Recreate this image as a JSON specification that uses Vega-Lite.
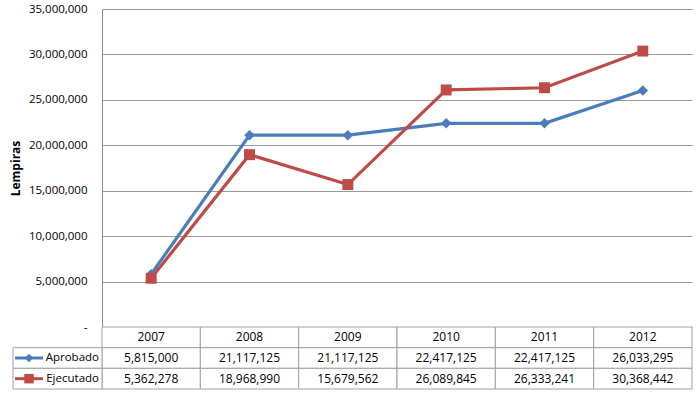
{
  "$schema": "https://vega.github.io/schema/vega-lite/v6.json",
  "autosize": {"type": "none"},
  "width": 590,
  "height": 380,
  "padding": {"left": 102, "top": 9, "right": 8, "bottom": 8},
  "background": "white",
  "config": {"view": {"stroke": null}, "font": "Open Sans"},
  "datasets": {
    "series": [
      {"year": "2007", "serie": "Aprobado", "value": 5815000},
      {"year": "2008", "serie": "Aprobado", "value": 21117125},
      {"year": "2009", "serie": "Aprobado", "value": 21117125},
      {"year": "2010", "serie": "Aprobado", "value": 22417125},
      {"year": "2011", "serie": "Aprobado", "value": 22417125},
      {"year": "2012", "serie": "Aprobado", "value": 26033295},
      {"year": "2007", "serie": "Ejecutado", "value": 5362278},
      {"year": "2008", "serie": "Ejecutado", "value": 18968990},
      {"year": "2009", "serie": "Ejecutado", "value": 15679562},
      {"year": "2010", "serie": "Ejecutado", "value": 26089845},
      {"year": "2011", "serie": "Ejecutado", "value": 26333241},
      {"year": "2012", "serie": "Ejecutado", "value": 30368442}
    ],
    "years": [
      {"year": "2007"}, {"year": "2008"}, {"year": "2009"},
      {"year": "2010"}, {"year": "2011"}, {"year": "2012"}
    ],
    "legend": [{"serie": "Aprobado"}, {"serie": "Ejecutado"}]
  },
  "layer": [
    {
      "data": {"name": "series"},
      "encoding": {
        "x": {"field": "year", "type": "nominal",
              "scale": {"type": "band", "domain": ["2007","2008","2009","2010","2011","2012"], "range": [0, 590], "paddingInner": 0, "paddingOuter": 0},
              "axis": null},
        "y": {"field": "value", "type": "quantitative",
              "scale": {"domain": [0, 35000000], "range": [318, 0], "nice": false, "zero": true},
              "axis": {
                "title": "Lempiras",
                "values": [0, 5000000, 10000000, 15000000, 20000000, 25000000, 30000000, 35000000],
                "labelExpr": "datum.value == 0 ? '-' : format(datum.value, ',')",
                "labelFont": "Open Sans", "labelFontSize": 11.5, "labelColor": "#000",
                "labelPadding": 15,
                "ticks": false,
                "domain": true, "domainColor": "#8c8c8c",
                "grid": true, "gridColor": "#9a9a9a", "gridWidth": 1,
                "titleFont": "Open Sans", "titleFontSize": 12, "titleFontWeight": "bold", "titleColor": "#000",
                "titlePadding": 6
              }},
        "color": {"field": "serie", "type": "nominal",
                  "scale": {"domain": ["Aprobado", "Ejecutado"], "range": ["#4A7EBB", "#BE4B48"]},
                  "legend": null}
      },
      "layer": [
        {"mark": {"type": "line", "strokeWidth": 3.2}},
        {"mark": {"type": "point", "filled": true, "opacity": 1},
         "encoding": {
           "shape": {"field": "serie", "type": "nominal", "scale": {"domain": ["Aprobado", "Ejecutado"], "range": ["diamond", "square"]}, "legend": null},
           "size": {"field": "serie", "type": "nominal", "scale": {"domain": ["Aprobado", "Ejecutado"], "range": [110, 120]}, "legend": null}
         }}
      ]
    },
    {
      "encoding": {
        "x": {"field": "year", "type": "nominal",
              "scale": {"type": "band", "domain": ["2007","2008","2009","2010","2011","2012"], "range": [0, 590], "paddingInner": 0, "paddingOuter": 0},
              "axis": null}
      },
      "layer": [
        {
          "data": {"name": "years"},
          "mark": {"type": "rect", "fill": "white", "stroke": "#a0a0a0", "strokeWidth": 1},
          "encoding": {
            "y": {"datum": "header", "type": "nominal",
                  "scale": {"type": "band", "domain": ["header", "Aprobado", "Ejecutado"], "range": [318, 380], "paddingInner": 0, "paddingOuter": 0},
                  "axis": null}
          }
        },
        {
          "data": {"name": "years"},
          "mark": {"type": "text", "fontSize": 12, "font": "Open Sans", "color": "#000", "baseline": "middle"},
          "encoding": {
            "y": {"datum": "header", "type": "nominal"},
            "text": {"field": "year"}
          }
        },
        {
          "data": {"name": "series"},
          "mark": {"type": "rect", "fill": "white", "stroke": "#a0a0a0", "strokeWidth": 1},
          "encoding": {
            "y": {"field": "serie", "type": "nominal"}
          }
        },
        {
          "data": {"name": "series"},
          "mark": {"type": "text", "fontSize": 12, "font": "Open Sans", "color": "#000", "baseline": "middle"},
          "encoding": {
            "y": {"field": "serie", "type": "nominal"},
            "text": {"field": "value", "type": "quantitative", "format": ","}
          }
        }
      ]
    },
    {
      "data": {"name": "legend"},
      "encoding": {
        "x": {"datum": "key", "type": "nominal",
              "scale": {"type": "band", "domain": ["key"], "range": [-89, 0], "paddingInner": 0, "paddingOuter": 0},
              "axis": null},
        "y": {"field": "serie", "type": "nominal",
              "scale": {"type": "band", "domain": ["header", "Aprobado", "Ejecutado"], "range": [318, 380], "paddingInner": 0, "paddingOuter": 0},
              "axis": null}
      },
      "layer": [
        {"mark": {"type": "rect", "fill": "white", "stroke": "#a0a0a0", "strokeWidth": 1}},
        {"mark": {"type": "rule", "strokeWidth": 3, "xOffset": -42.5, "x2Offset": -14.5},
         "encoding": {
           "x2": {"datum": "key"},
           "color": {"field": "serie", "type": "nominal", "scale": {"domain": ["Aprobado", "Ejecutado"], "range": ["#4A7EBB", "#BE4B48"]}, "legend": null}
         }},
        {"mark": {"type": "point", "filled": true, "opacity": 1, "xOffset": -28.5},
         "encoding": {
           "color": {"field": "serie", "type": "nominal", "scale": {"domain": ["Aprobado", "Ejecutado"], "range": ["#4A7EBB", "#BE4B48"]}, "legend": null},
           "shape": {"field": "serie", "type": "nominal", "scale": {"domain": ["Aprobado", "Ejecutado"], "range": ["diamond", "square"]}, "legend": null},
           "size": {"field": "serie", "type": "nominal", "scale": {"domain": ["Aprobado", "Ejecutado"], "range": [70, 90]}, "legend": null}
         }},
        {"mark": {"type": "text", "fontSize": 11.5, "font": "Open Sans", "color": "#000", "align": "right", "baseline": "middle", "xOffset": 41.5},
         "encoding": {"text": {"field": "serie"}}}
      ]
    }
  ],
  "resolve": {"scale": {"x": "independent", "y": "independent", "color": "independent", "shape": "independent", "size": "independent"}}
}
